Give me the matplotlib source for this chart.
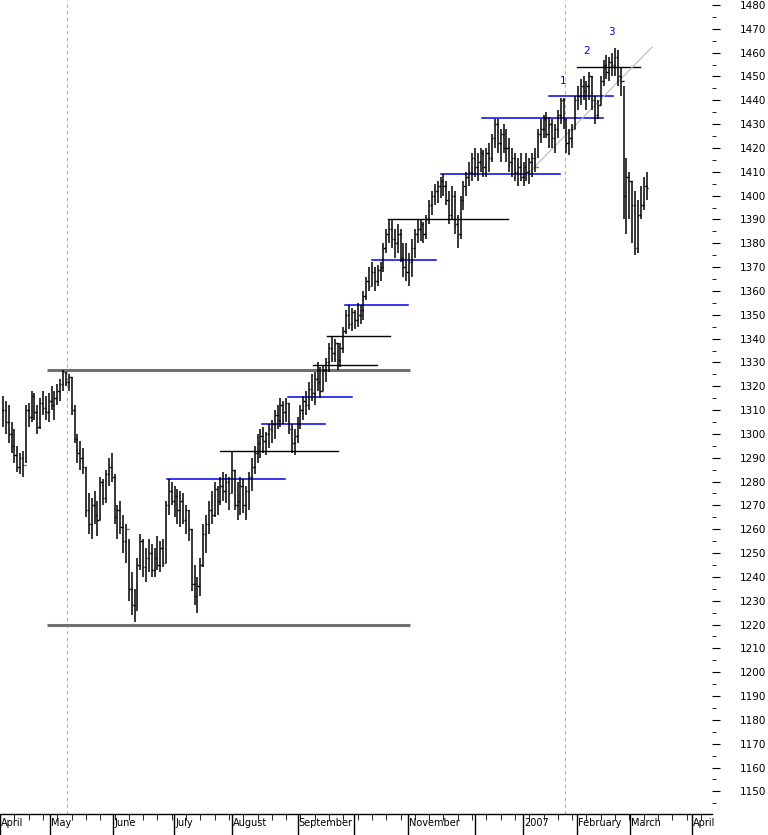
import numpy as np
import matplotlib.pyplot as plt

# daily bars: (high, low, close)
bars = [
    (1316,1303,1310),(1314,1300,1305),(1312,1296,1300),(1305,1292,1295),(1302,1288,1291),
    (1295,1284,1286),(1292,1283,1290),(1293,1282,1287),
    (1312,1288,1310),(1313,1303,1307),(1318,1305,1316),(1317,1306,1309),(1312,1300,1303),(1315,1302,1313),(1318,1308,1311),
    (1316,1306,1309),(1317,1305,1314),(1320,1310,1312),(1318,1306,1315),(1321,1312,1318),(1323,1314,1321),
    (1327,1318,1326),(1326,1320,1322),(1325,1318,1324),
    (1324,1308,1310),(1312,1296,1298),(1300,1288,1292),(1297,1285,1290),(1294,1283,1286),
    (1286,1265,1268),(1275,1258,1262),(1273,1256,1270),(1276,1262,1266),(1272,1257,1264),
    (1282,1264,1280),(1281,1270,1273),(1285,1271,1283),(1290,1278,1286),(1292,1280,1282),
    (1283,1262,1265),(1270,1256,1268),(1272,1258,1261),(1266,1250,1255),(1262,1246,1260),
    (1256,1230,1235),(1242,1224,1228),(1235,1221,1226),(1248,1226,1245),
    (1258,1243,1255),(1256,1240,1244),(1252,1238,1248),(1256,1242,1250),(1254,1240,1243),
    (1252,1240,1248),(1257,1243,1245),(1255,1242,1252),(1256,1244,1246),
    (1272,1246,1270),
    (1281,1266,1276),(1280,1270,1272),(1278,1265,1274),(1277,1262,1268),(1276,1261,1272),
    (1275,1262,1264),(1270,1258,1268),(1268,1255,1260),
    (1260,1234,1237),(1245,1228,1232),(1240,1225,1236),(1248,1232,1245),
    (1262,1244,1258),(1266,1250,1262),(1272,1258,1268),(1276,1262,1266),(1280,1265,1277),
    (1278,1266,1272),(1282,1270,1278),(1284,1272,1276),(1283,1271,1280),(1282,1268,1275),
    (1293,1275,1285),(1285,1268,1270),(1280,1264,1272),(1282,1266,1278),(1281,1267,1270),
    (1278,1264,1276),(1284,1268,1282),(1290,1276,1286),(1295,1283,1292),(1300,1288,1296),
    (1302,1290,1299),(1303,1292,1297),(1301,1291,1300),(1304,1294,1302),(1306,1296,1304),
    (1310,1298,1308),(1312,1302,1306),(1315,1303,1312),(1314,1304,1309),(1315,1305,1313),
    (1313,1300,1302),(1304,1292,1296),(1302,1291,1299),(1307,1296,1304),(1312,1302,1310),
    (1316,1306,1314),(1318,1308,1312),(1322,1310,1319),(1325,1314,1317),(1326,1312,1323),
    (1330,1318,1322),(1328,1315,1318),(1329,1318,1327),(1332,1322,1330),(1338,1326,1336),
    (1341,1330,1334),(1340,1330,1338),(1338,1327,1331),(1338,1328,1336),
    (1345,1334,1343),(1352,1342,1350),(1354,1344,1346),(1353,1343,1351),(1352,1344,1348),
    (1355,1345,1350),(1354,1346,1352),(1360,1348,1358),(1366,1356,1364),(1370,1360,1362),
    (1372,1362,1368),(1370,1360,1364),(1371,1362,1369),(1372,1364,1370),(1380,1368,1378),
    (1386,1376,1384),(1390,1380,1386),(1390,1378,1382),(1386,1374,1380),(1388,1376,1384),
    (1386,1372,1374),(1380,1366,1370),
    (1380,1364,1368),(1376,1362,1372),(1382,1366,1378),(1386,1374,1384),(1390,1380,1386),
    (1390,1381,1388),(1389,1380,1384),(1392,1382,1390),(1398,1388,1396),(1402,1392,1400),
    (1405,1396,1402),(1406,1397,1404),(1408,1399,1406),(1409,1400,1404),(1406,1396,1398),
    (1402,1388,1392),(1404,1390,1400),(1402,1384,1388),(1392,1378,1384),(1400,1382,1398),
    (1406,1394,1404),(1410,1400,1408),(1414,1404,1410),(1418,1406,1416),(1420,1408,1412),
    (1418,1406,1414),(1420,1410,1418),(1419,1408,1412),(1420,1408,1418),(1422,1410,1416),
    (1426,1414,1424),(1432,1420,1430),(1432,1418,1422),(1428,1414,1426),(1430,1418,1420),
    (1428,1414,1420),(1424,1410,1414),(1420,1408,1416),(1418,1406,1410),(1416,1404,1412),
    (1418,1406,1408),(1414,1404,1412),(1418,1406,1410),(1416,1405,1414),(1418,1408,1416),
    (1420,1410,1412),(1428,1416,1426),(1432,1422,1428),(1434,1424,1432),(1435,1424,1426),
    (1433,1420,1430),(1432,1420,1424),(1430,1418,1428),(1436,1424,1434),(1441,1430,1440),
    (1441,1428,1432),(1432,1418,1422),(1428,1417,1424),(1430,1420,1428),(1442,1428,1440),
    (1446,1436,1442),(1449,1438,1446),(1450,1440,1444),(1448,1436,1446),(1452,1440,1450),
    (1450,1436,1440),(1442,1430,1434),(1440,1432,1438),(1450,1438,1448),(1457,1446,1455),
    (1459,1449,1452),(1458,1448,1456),(1460,1450,1455),(1462,1450,1458),(1461,1446,1450),
    (1454,1442,1448),(1446,1390,1400),(1416,1384,1408),(1410,1390,1406),(1406,1380,1396),
    (1402,1375,1378),(1398,1376,1392),(1404,1390,1396),(1408,1394,1404),(1410,1398,1403),
]
highs = [b[0] for b in bars]
lows = [b[1] for b in bars]
closes = [b[2] for b in bars]

# month boundaries in trading-day index
month_pos = [-1.0, 16.4, 38.5, 59.8, 80.0, 103.0, 122.7, 141.6, 165.0, 181.8, 200.7, 219.2, 241.0]
month_lab = ["April", "May", "June", "July", "August", "September", "", "November", "", "2007",
             "February", "March", "April"]

# support / resistance segments: (level, start, end)
gray_lines = [(1327, 15.4, 142.3), (1220, 15.4, 142.3)]
blue_lines = [(1281, 57.3, 98.6), (1304, 90.6, 112.6), (1315.5, 99.6, 122.0), (1354, 119.6, 141.6),
              (1373, 129.0, 151.4), (1409, 153.1, 194.8), (1432.5, 167.5, 209.8), (1441.8, 190.9, 213.3)]
black_lines = [(1293, 75.9, 117.1), (1329, 108.4, 130.8), (1341, 113.3, 135.3), (1390, 134.6, 176.6),
               (1454, 200.7, 222.7)]
trend = ([182.2, 226.9], [1407.6, 1462.3])
wave_labels = [("1", 195.8, 1446), ("2", 204.2, 1458.5), ("3", 212.6, 1466.5)]
dashed_x = [22.4, 196.5]

fig = plt.figure(figsize=(7.68, 8.35), dpi=100)
ax = fig.add_axes([0, 21 / 835, 712 / 768, 814 / 835])
ax.set_xlim(-1.05, 247.9)
ax.set_ylim(1140.5, 1482.1)

for xd in dashed_x:
    ax.axvline(xd, color='#b0b0b0', linestyle=(0, (3, 3)), linewidth=0.8)

for lvl, a, b in gray_lines:
    ax.plot([a, b], [lvl, lvl], color='#707070', linewidth=2.2, solid_capstyle='butt')
for lvl, a, b in blue_lines:
    ax.plot([a, b], [lvl, lvl], color='#0000ee', linewidth=1.1)
for lvl, a, b in black_lines:
    ax.plot([a, b], [lvl, lvl], color='black', linewidth=1.0)
ax.plot(trend[0], trend[1], color='#c0c0c0', linewidth=0.9)

idx = np.arange(len(bars))
opens = [closes[0]] + closes[:-1]
ax.vlines(idx, lows, highs, color='black', linewidth=1.1)
ax.hlines(opens, idx - 0.45, idx, color='black', linewidth=1.0)
ax.hlines(closes, idx, idx + 0.45, color='black', linewidth=1.0)

for t, xx, yy in wave_labels:
    ax.text(xx, yy, t, color='#0000ee', fontsize=7.5, ha='center', va='bottom')

for s in ['left', 'top', 'right']:
    ax.spines[s].set_visible(False)
ax.spines['bottom'].set_linewidth(1.0)

ax.yaxis.tick_right()
ax.set_yticks(np.arange(1150, 1481, 10))
ax.set_yticks(np.arange(1145, 1481, 10), minor=True)
ax.tick_params(axis='y', which='major', length=6, pad=14, labelsize=7.5, direction='out')
ax.tick_params(axis='y', which='minor', length=3, direction='out')

ax.set_xticks(month_pos)
ax.set_xticklabels([])
ax.set_xticks(np.arange(-1.0, 247, 5), minor=True)
ax.tick_params(axis='x', which='major', length=21, width=1.0, direction='out')
ax.tick_params(axis='x', which='minor', length=4, direction='out')
for p, lab in zip(month_pos, month_lab):
    ax.text(p + 0.4, -0.0055, lab, transform=ax.get_xaxis_transform(), fontsize=7,
            ha='left', va='top')

fig.savefig('out.png', dpi=100)
